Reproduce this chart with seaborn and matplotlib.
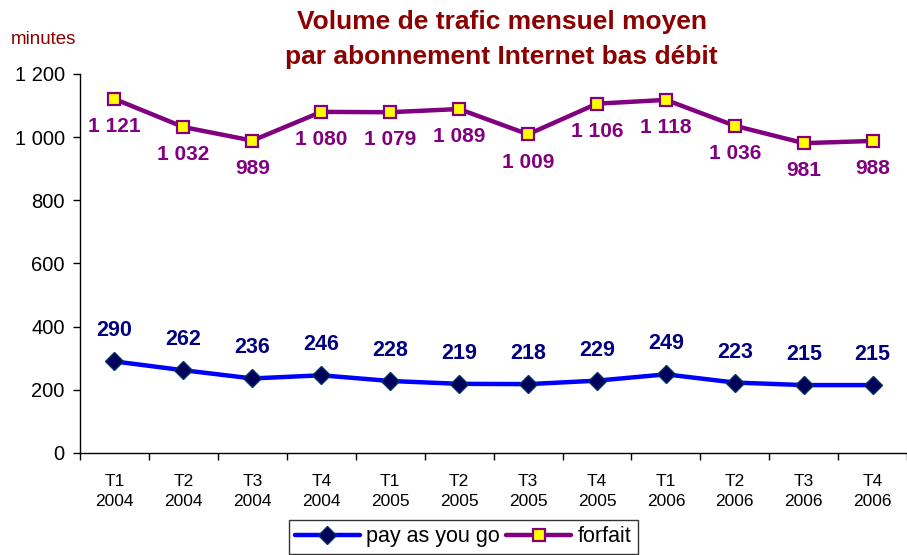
import matplotlib
matplotlib.use("Agg")
import matplotlib.pyplot as plt
import seaborn as sns
import pandas as pd
import numpy as np

quarters = ["T1\n2004", "T2\n2004", "T3\n2004", "T4\n2004",
            "T1\n2005", "T2\n2005", "T3\n2005", "T4\n2005",
            "T1\n2006", "T2\n2006", "T3\n2006", "T4\n2006"]
pay_as_you_go = [290, 262, 236, 246, 228, 219, 218, 229, 249, 223, 215, 215]
forfait = [1121, 1032, 989, 1080, 1079, 1089, 1009, 1106, 1118, 1036, 981, 988]
y_ticks = [0, 200, 400, 600, 800, 1000, 1200]

def fmt(v):
    return f"{v:,}".replace(",", " ")

sns.set_theme(style="white")
plt.rcParams["font.family"] = ["Liberation Sans", "DejaVu Sans"]

fig = plt.figure(figsize=(9.07, 5.55), dpi=100)
ax = fig.add_axes([0.0882, 0.1838, 0.912, 0.6829])

df = pd.DataFrame({"x": np.arange(len(quarters)), "pay": pay_as_you_go, "forfait": forfait})

sns.lineplot(data=df, x="x", y="pay", ax=ax, color="#0000FF", lw=3.2,
             marker="D", markersize=9.5, markerfacecolor="#00005A",
             markeredgecolor="#003366", markeredgewidth=1, label="pay as you go", zorder=3)
sns.lineplot(data=df, x="x", y="forfait", ax=ax, color="#800080", lw=3.2,
             marker="s", markersize=8, markerfacecolor="#FFFF00",
             markeredgecolor="#800080", markeredgewidth=1.6, label="forfait", zorder=3)

for i, v in enumerate(pay_as_you_go):
    ax.annotate(str(v), (i, v), xytext=(0, 22), textcoords="offset points",
                ha="center", va="center", fontsize=15.5, fontweight="bold", color="#000080")
for i, v in enumerate(forfait):
    ax.annotate(fmt(v), (i, v), xytext=(0, -20), textcoords="offset points",
                ha="center", va="center", fontsize=15, fontweight="bold", color="#800080")

ax.set_xlim(-0.5, len(quarters) - 0.5)
ax.set_ylim(0, 1200)
ax.set_yticks(y_ticks)
ax.set_yticklabels([fmt(t) for t in y_ticks], fontsize=14.5, color="black")
ax.set_xticks(np.arange(len(quarters)))
ax.set_xticklabels(quarters, fontsize=12.5, linespacing=1.4, color="black")
ax.set_xticks(np.arange(len(quarters) + 1) - 0.5, minor=True)
ax.tick_params(axis="x", which="major", length=0, pad=15)
ax.tick_params(axis="x", which="minor", length=5, width=1, color="black", direction="out", bottom=True)
ax.tick_params(axis="y", length=5, width=1, color="black", direction="out", left=True, pad=6)
ax.set_xlabel("")
ax.set_ylabel("")
for side in ["top", "right"]:
    ax.spines[side].set_visible(False)
for side in ["left", "bottom"]:
    ax.spines[side].set_color("black")
    ax.spines[side].set_linewidth(1)

fig.text(0.012, 0.928, "minutes", fontsize=13.5, color="#8B0000", ha="left", va="center")
fig.text(0.553, 0.929, "Volume de trafic mensuel moyen\npar abonnement Internet bas débit",
         fontsize=19, fontweight="bold", color="#8B0000", ha="center", va="center", linespacing=1.55)

leg = ax.legend(loc="upper center", ncol=2, fontsize=15.5, frameon=True, fancybox=False,
                edgecolor="black", handlelength=3.0, handletextpad=0.3, columnspacing=0.3,
                borderpad=0.3)
leg.set_bbox_to_anchor((0.5105, 0.083), transform=fig.transFigure)
leg.get_frame().set_linewidth(1)
for t in leg.get_texts():
    t.set_color("black")

fig.savefig("out.png", dpi=100)
